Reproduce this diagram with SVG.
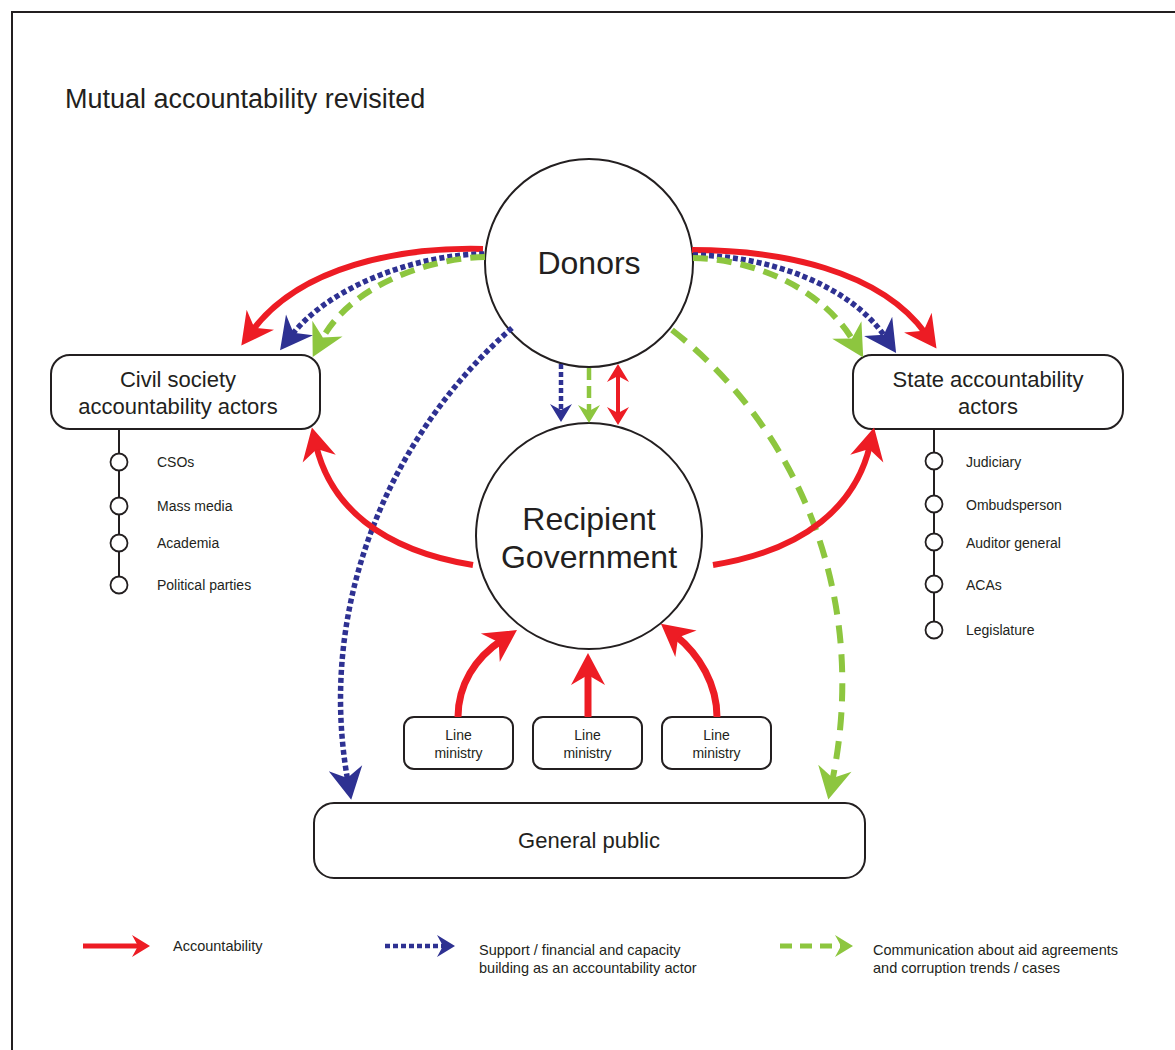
<svg xmlns="http://www.w3.org/2000/svg" width="1175" height="1050" viewBox="0 0 1175 1050">
<style>
text{font-family:"Liberation Sans",Arial,sans-serif;fill:#231F20}
.box{fill:#fff;stroke:#231F20;stroke-width:2}
.circ{fill:#fff;stroke:#231F20;stroke-width:2}
.dot{fill:#fff;stroke:#231F20;stroke-width:1.8}
.red{fill:none;stroke:#ED1C24;stroke-width:6}
.blue{fill:none;stroke:#2E3192;stroke-width:5.5;stroke-dasharray:5 3}
.green{fill:none;stroke:#8DC63F;stroke-width:6;stroke-dasharray:15 9}
.greenL{fill:none;stroke:#8DC63F;stroke-width:6;stroke-dasharray:18 11}
.t22{font-size:22px}
.t14{font-size:14px}
.lg{font-size:14.5px}
</style>
<defs>
<marker id="aR" viewBox="-34 -18 36 36" refX="-18" refY="0" markerWidth="36" markerHeight="36" markerUnits="userSpaceOnUse" orient="auto"><path d="M0,0 L-32,-17 L-22,0 L-32,17 Z" fill="#ED1C24"/></marker>
<marker id="aB" viewBox="-34 -18 36 36" refX="-18" refY="0" markerWidth="36" markerHeight="36" markerUnits="userSpaceOnUse" orient="auto"><path d="M0,0 L-32,-17 L-22,0 L-32,17 Z" fill="#2E3192"/></marker>
<marker id="aG" viewBox="-34 -18 36 36" refX="-18" refY="0" markerWidth="36" markerHeight="36" markerUnits="userSpaceOnUse" orient="auto"><path d="M0,0 L-32,-17 L-22,0 L-32,17 Z" fill="#8DC63F"/></marker>
<marker id="sR" viewBox="-20 -13 22 26" refX="-9" refY="0" markerWidth="22" markerHeight="26" markerUnits="userSpaceOnUse" orient="auto-start-reverse"><path d="M0,0 L-18,-11 L-12,0 L-18,11 Z" fill="#ED1C24"/></marker>
<marker id="sB" viewBox="-20 -13 22 26" refX="-9" refY="0" markerWidth="22" markerHeight="26" markerUnits="userSpaceOnUse" orient="auto"><path d="M0,0 L-18,-11 L-12,0 L-18,11 Z" fill="#2E3192"/></marker>
<marker id="sG" viewBox="-20 -13 22 26" refX="-9" refY="0" markerWidth="22" markerHeight="26" markerUnits="userSpaceOnUse" orient="auto"><path d="M0,0 L-18,-11 L-12,0 L-18,11 Z" fill="#8DC63F"/></marker>
</defs>
<rect width="1175" height="1050" fill="#fff"/>
<path d="M12,1050 V12 H1175" fill="none" stroke="#231F20" stroke-width="2"/>
<text x="65" y="108" style="font-size:27px">Mutual accountability revisited</text>

<g id="donors"><circle class="circ" cx="589" cy="263" r="104"/><text x="589" y="274" text-anchor="middle" style="font-size:32px">Donors</text></g>
<g id="recipient"><circle class="circ" cx="589" cy="536" r="113"/><text x="589" y="530" text-anchor="middle" style="font-size:32px">Recipient</text><text x="589" y="568" text-anchor="middle" style="font-size:32px">Government</text></g>

<g id="civil"><rect class="box" x="51" y="355" width="269" height="74" rx="19"/><text class="t22" x="178" y="387" text-anchor="middle">Civil society</text><text class="t22" x="178" y="414" text-anchor="middle">accountability actors</text></g>
<g id="civil-list">
<line x1="119" y1="429" x2="119" y2="585" stroke="#231F20" stroke-width="2"/>
<circle class="dot" cx="119" cy="462" r="8.5"/><circle class="dot" cx="119" cy="506" r="8.5"/><circle class="dot" cx="119" cy="543" r="8.5"/><circle class="dot" cx="119" cy="585" r="8.5"/>
<text class="t14" x="157" y="467">CSOs</text><text class="t14" x="157" y="511">Mass media</text><text class="t14" x="157" y="548">Academia</text><text class="t14" x="157" y="590">Political parties</text>
</g>

<g id="state"><rect class="box" x="853" y="355" width="270" height="74" rx="19"/><text class="t22" x="988" y="387" text-anchor="middle">State accountability</text><text class="t22" x="988" y="414" text-anchor="middle">actors</text></g>
<g id="state-list">
<line x1="934" y1="429" x2="934" y2="630" stroke="#231F20" stroke-width="2"/>
<circle class="dot" cx="934" cy="461" r="8.5"/><circle class="dot" cx="934" cy="504" r="8.5"/><circle class="dot" cx="934" cy="542" r="8.5"/><circle class="dot" cx="934" cy="584" r="8.5"/><circle class="dot" cx="934" cy="630" r="8.5"/>
<text class="t14" x="966" y="467">Judiciary</text><text class="t14" x="966" y="510">Ombudsperson</text><text class="t14" x="966" y="548">Auditor general</text><text class="t14" x="966" y="590">ACAs</text><text class="t14" x="966" y="635">Legislature</text>
</g>

<g id="ministry1"><rect class="box" x="404" y="717" width="109" height="52" rx="10"/><text class="t14" x="458.5" y="740" text-anchor="middle">Line</text><text class="t14" x="458.5" y="758" text-anchor="middle">ministry</text></g>
<g id="ministry2"><rect class="box" x="533" y="717" width="109" height="52" rx="10"/><text class="t14" x="587.5" y="740" text-anchor="middle">Line</text><text class="t14" x="587.5" y="758" text-anchor="middle">ministry</text></g>
<g id="ministry3"><rect class="box" x="662" y="717" width="109" height="52" rx="10"/><text class="t14" x="716.5" y="740" text-anchor="middle">Line</text><text class="t14" x="716.5" y="758" text-anchor="middle">ministry</text></g>

<g id="public"><rect class="box" x="314" y="803" width="551" height="75" rx="20"/><text x="589" y="848" text-anchor="middle" style="font-size:22px">General public</text></g>

<g id="connectors">
<path class="red" d="M483,249 C400,247 300,266 252,331" marker-end="url(#aR)"/>
<path class="blue" d="M484,254 C420,254 330,285 291,336" marker-end="url(#aB)"/>
<path class="green" d="M485,257 C430,258 350,285 321,341" marker-end="url(#aG)"/>
<path class="red" d="M692,250 C780,250 880,270 926,334" marker-end="url(#aR)"/>
<path class="blue" d="M693,255 C770,256 850,285 886,338" marker-end="url(#aB)"/>
<path class="green" d="M693,258 C750,259 820,285 854,342" marker-end="url(#aG)"/>
<path class="blue" d="M512,328 C395,430 315,600 348,782" marker-end="url(#aB)"/>
<path class="greenL" d="M672,330 C800,430 870,600 832,782" marker-end="url(#aG)"/>
<path class="red" d="M473,565 C380,550 330,505 316,445" marker-end="url(#aR)"/>
<path class="red" d="M713,565 C806,550 856,505 870,445" marker-end="url(#aR)"/>
<path class="red" style="stroke-width:7" d="M458,717 C458,685 475,658 502,640" marker-end="url(#aR)"/>
<path class="red" style="stroke-width:7" d="M588,717 L588,671" marker-end="url(#aR)"/>
<path class="red" style="stroke-width:7" d="M717,717 C717,685 700,655 675,635" marker-end="url(#aR)"/>
<path class="blue" style="stroke-width:4.5" d="M561,364 L561,413" marker-end="url(#sB)"/>
<path class="green" style="stroke-width:4.5;stroke-dasharray:12 6" d="M589,368 L589,414" marker-end="url(#sG)"/>
<path class="red" style="stroke-width:4" d="M618,373 L618,416" marker-start="url(#sR)" marker-end="url(#sR)"/>
</g>

<g id="legend">
<path class="red" style="stroke-width:5" d="M83,946 L141,946" marker-end="url(#sR)"/>
<text class="lg" x="173" y="951">Accountability</text>
<path class="blue" style="stroke-width:4.5" d="M385,946 L446,946" marker-end="url(#sB)"/>
<text class="lg" x="479" y="955">Support / financial and capacity</text>
<text class="lg" x="479" y="973">building as an accountability actor</text>
<path class="green" style="stroke-width:5;stroke-dasharray:12 8" d="M780,946 L844,946" marker-end="url(#sG)"/>
<text class="lg" x="873" y="955">Communication about aid agreements</text>
<text class="lg" x="873" y="973">and corruption trends / cases</text>
</g>
</svg>
